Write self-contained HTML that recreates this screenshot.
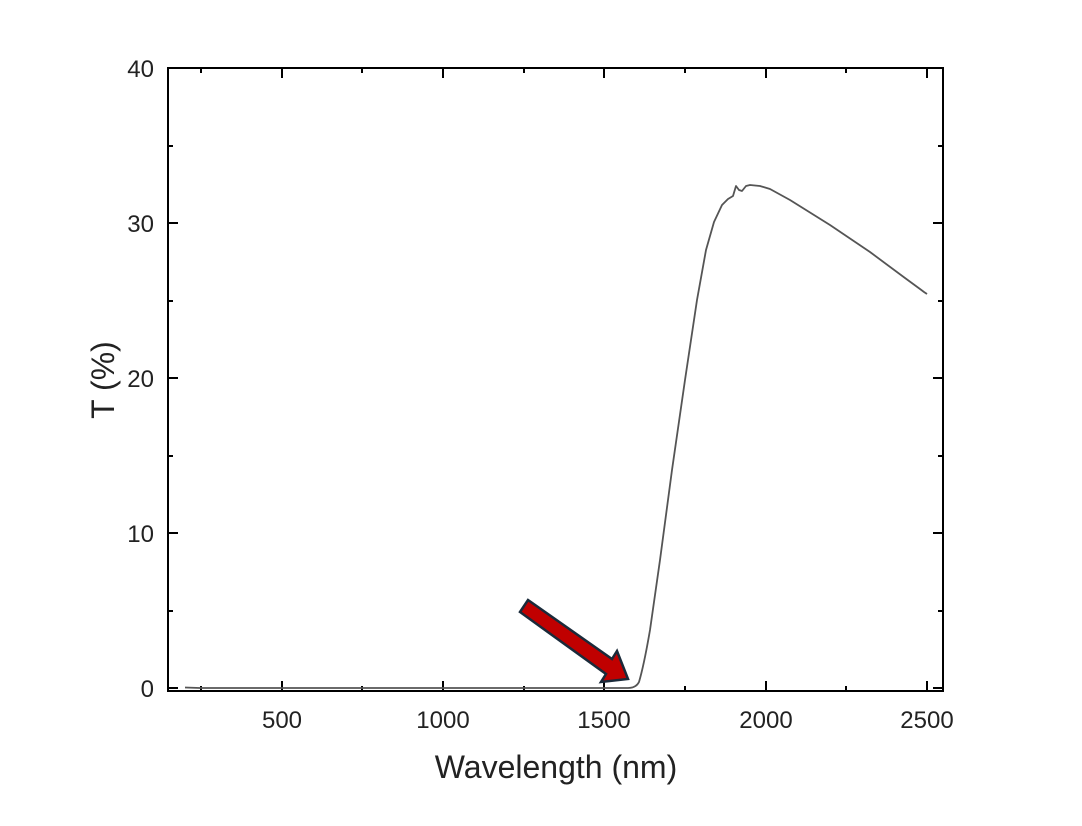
<!DOCTYPE html>
<html><head><meta charset="utf-8"><style>
body{margin:0;background:#fff;}
svg{display:block;font-family:"Liberation Sans",Arial,sans-serif;}
</style></head><body>
<svg width="1082" height="826" viewBox="0 0 1082 826">
<rect width="1082" height="826" fill="#fff"/>
<g stroke="#000" stroke-width="2" fill="none">
<rect x="168" y="68" width="775" height="623"/>
<path d="M282 691v-10M443 691v-10M604 691v-10M766 691v-10M927 691v-10
M282 68v10M443 68v10M604 68v10M766 68v10M927 68v10
M201 691v-5M362 691v-5M524 691v-5M685 691v-5M846 691v-5
M201 68v5M362 68v5M524 68v5M685 68v5M846 68v5
M168 688h10M168 533h10M168 378h10M168 223h10M168 68h10
M943 688h-10M943 533h-10M943 378h-10M943 223h-10
M168 611h5M168 456h5M168 301h5M168 146h5
M943 611h-5M943 456h-5M943 301h-5M943 146h-5"/>
</g>
<g font-size="24" fill="#222" text-anchor="middle">
<text x="282" y="728">500</text><text x="443" y="728">1000</text><text x="604" y="728">1500</text><text x="766" y="728">2000</text><text x="927" y="728">2500</text>
</g>
<g font-size="24" fill="#222" text-anchor="end">
<text x="154" y="697">0</text><text x="154" y="542">10</text><text x="154" y="387">20</text><text x="154" y="232">30</text><text x="154" y="77">40</text>
</g>
<text x="556" y="778" font-size="32" fill="#222" text-anchor="middle">Wavelength (nm)</text>
<text transform="translate(114,380) rotate(-90)" font-size="32" fill="#222" text-anchor="middle">T (%)</text>
<path d="M185 687.5L200 688L628 688Q636 688 639 682Q644 665 650 630L660 560L672 470L685 380L697 300L706 250L714 222L722 205L728 199L733 196L736 186L739 190L742 191L746 186L750 185L760 186L770 189L790 200L830 225L870 252L905 278L920 289L924 292L927 294" fill="none" stroke="#555" stroke-width="1.8" stroke-linejoin="round"/>
<polygon points="520,612 528,600 612,659 617,651 628,679 601,682 606,674" fill="#c00000" stroke="#1a2a3a" stroke-width="2.5"/>
</svg>
</body></html>
